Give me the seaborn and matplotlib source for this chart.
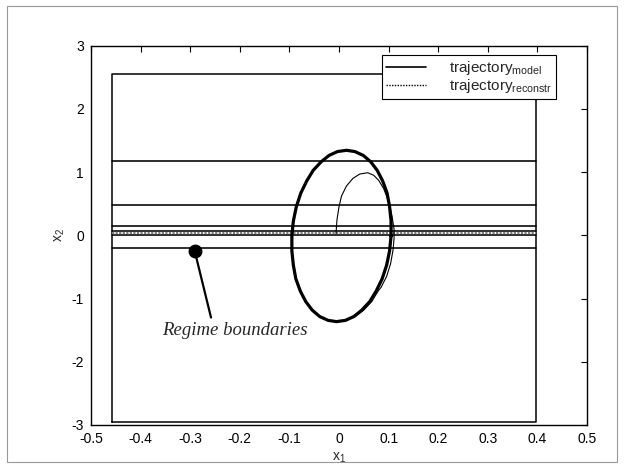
import matplotlib
matplotlib.use('Agg')
import matplotlib.pyplot as plt
import seaborn as sns
import pandas as pd
from matplotlib.lines import Line2D
from matplotlib.patches import Rectangle

# ---------------- data ----------------
model_x = [0.105, 0.105, 0.102, 0.097, 0.088, 0.077, 0.064, 0.049, 0.032, 0.015,
           -0.003, -0.020, -0.036, -0.052, -0.065, -0.077, -0.086, -0.092, -0.095,
           -0.095, -0.092, -0.087, -0.078, -0.067, -0.054, -0.039, -0.022, -0.005,
           0.013, 0.030, 0.046, 0.062, 0.075, 0.087, 0.096, 0.102, 0.105]
model_y = [-0.010, 0.226, 0.453, 0.668, 0.861, 1.028, 1.163, 1.264, 1.325, 1.345,
           1.325, 1.264, 1.163, 1.028, 0.861, 0.668, 0.453, 0.226, -0.010,
           -0.246, -0.473, -0.688, -0.881, -1.048, -1.183, -1.284, -1.345, -1.365,
           -1.345, -1.284, -1.183, -1.048, -0.881, -0.688, -0.473, -0.246, -0.010]

recon_x = [-0.006, -0.004, 0.000, 0.005, 0.015, 0.028, 0.042, 0.058, 0.070, 0.080,
           0.090, 0.097, 0.103, 0.107, 0.111, 0.111, 0.109, 0.104, 0.096, 0.085,
           0.079, 0.066, 0.050, 0.033, 0.015, -0.005, -0.022, -0.039, -0.054, -0.067,
           -0.078, -0.087, -0.092, -0.095, -0.095, -0.092, -0.086, -0.077, -0.065,
           -0.052, -0.036, -0.020, -0.003, 0.015, 0.032, 0.049, 0.064, 0.077, 0.088,
           0.097, 0.102, 0.105, 0.105, 0.102, 0.096]
recon_y = [0.03, 0.25, 0.45, 0.62, 0.78, 0.90, 0.97, 0.99, 0.95, 0.87,
           0.74, 0.60, 0.45, 0.30, 0.10, -0.05, -0.23, -0.45, -0.65, -0.82,
           -0.881, -1.048, -1.183, -1.284, -1.345, -1.365, -1.345, -1.284, -1.183, -1.048,
           -0.881, -0.688, -0.473, -0.246, -0.010, 0.226, 0.453, 0.668, 0.861,
           1.028, 1.163, 1.264, 1.325, 1.345, 1.325, 1.264, 1.163, 1.028, 0.861,
           0.668, 0.453, 0.226, -0.010, -0.246, -0.473]

boundary_y = [1.17, 0.48, 0.15, 0.07, 0.0, -0.20]
boundary_grey_y = [0.03]
region_x = [-0.458, 0.398]
region_y = [-2.96, 2.555]

marker_x, marker_y = -0.291, -0.244
pointer_end_x, pointer_end_y = -0.258, -1.30
annot_text = 'Regime boundaries'
annot_x, annot_y = -0.063, -1.58

xticks = [-0.5, -0.4, -0.3, -0.2, -0.1, 0, 0.1, 0.2, 0.3, 0.4, 0.5]
xticklabels = ['-0.5', '-0.4', '-0.3', '-0.2', '-0.1', '0', '0.1', '0.2', '0.3', '0.4', '0.5']
yticks = [-3, -2, -1, 0, 1, 2, 3]
yticklabels = ['-3', '-2', '-1', '0', '1', '2', '3']

legend_labels = [r'trajectory$_{\mathrm{model}}$', r'trajectory$_{\mathrm{reconstr}}$']

# ---------------- style ----------------
sns.set_style('white')
plt.rcParams['font.family'] = ['Liberation Sans', 'DejaVu Sans']
plt.rcParams['mathtext.fontset'] = 'custom'
plt.rcParams['mathtext.rm'] = 'Liberation Sans'
plt.rcParams['mathtext.it'] = 'Liberation Sans:italic'

fig = plt.figure(figsize=(6.24, 4.68), dpi=100)
ax = fig.add_axes([0.1458, 0.0919, 0.7949, 0.8105])

# region rectangle
rect_df = pd.DataFrame({
    'x': [region_x[0], region_x[1], region_x[1], region_x[0], region_x[0]],
    'y': [region_y[0], region_y[0], region_y[1], region_y[1], region_y[0]],
})
sns.lineplot(data=rect_df, x='x', y='y', sort=False, estimator=None,
             color='black', lw=1.1, ax=ax)

# regime boundaries
for yb in boundary_y:
    sns.lineplot(x=region_x, y=[yb, yb], sort=False, estimator=None,
                 color='black', lw=1.15, ax=ax)
for yb in boundary_grey_y:
    sns.lineplot(x=region_x, y=[yb, yb], sort=False, estimator=None,
                 color='#808080', lw=1.6, ls=(0, (1, 0.6)), ax=ax)

# trajectories
sns.lineplot(x=recon_x, y=recon_y, sort=False, estimator=None,
             color='black', lw=0.8, ax=ax)
sns.lineplot(x=model_x, y=model_y, sort=False, estimator=None,
             color='black', lw=2.3, ax=ax)

# annotation
ax.plot([marker_x, pointer_end_x], [marker_y, pointer_end_y], color='black', lw=1.6)
ax.plot([marker_x], [marker_y], 'o', color='black', markersize=9)
ax.text(annot_x, annot_y, annot_text, ha='right', va='baseline',
        family=['Liberation Serif', 'DejaVu Serif'], style='italic', fontsize=13.5)

ax.set_xlim(-0.5, 0.5)
ax.set_ylim(-3, 3)
ax.set_xticks(xticks)
ax.set_xticklabels(xticklabels)
ax.set_yticks(yticks)
ax.set_yticklabels(yticklabels)
ax.tick_params(direction='in', top=True, right=True, length=4, width=0.8,
               labelsize=10, colors='black')
ax.tick_params(axis='x', pad=5)
ax.tick_params(axis='y', pad=5)
for s in ax.spines.values():
    s.set_color('black')
    s.set_linewidth(1.0)
    s.set_visible(True)
ax.set_xlabel(r'x$_1$', fontsize=10, labelpad=3)
ax.set_ylabel(r'x$_2$', fontsize=10, labelpad=3)

handles = [Line2D([], [], color='black', lw=1.2),
           Line2D([], [], color='black', lw=1.0, ls=(0, (1, 1)))]
leg = ax.legend(handles, legend_labels, loc='upper left',
                bbox_to_anchor=(0.587, 0.975), fontsize=11, frameon=True,
                fancybox=False, edgecolor='black', framealpha=1,
                handlelength=2.6, handletextpad=1.5, borderpad=0.25,
                labelspacing=0.0, borderaxespad=0)
leg.get_frame().set_linewidth(0.8)

fig.patches.append(Rectangle((0.012, 0.012), 0.976, 0.976, transform=fig.transFigure,
                             fill=False, edgecolor='#999999', lw=0.8))

fig.savefig('out.png', dpi=100)
